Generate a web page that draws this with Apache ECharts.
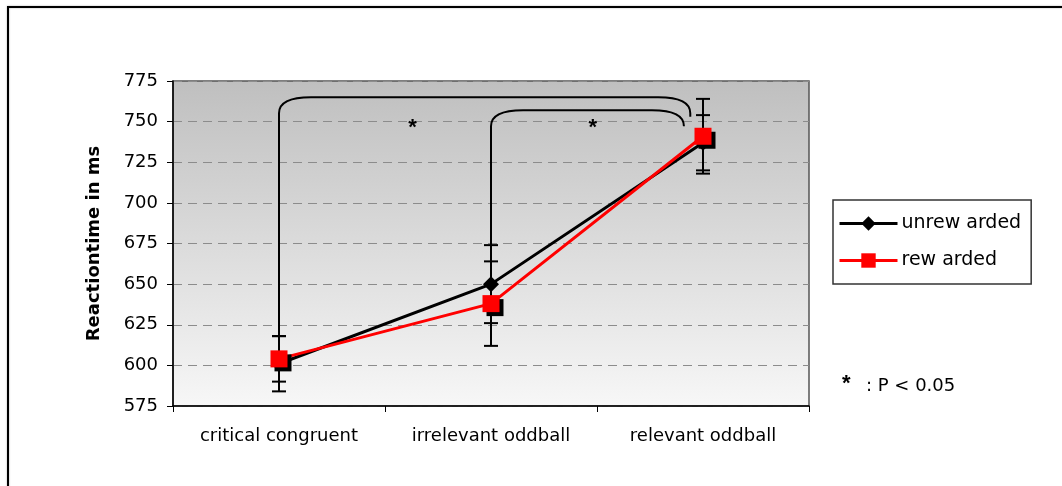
<!DOCTYPE html>
<html>
<head>
<meta charset="utf-8">
<script src="https://cdn.jsdelivr.net/npm/echarts@6/dist/echarts.min.js"></script>
<style>
html,body{margin:0;padding:0;background:#fff;}
#chart{width:1062px;height:486px;}
</style>
</head>
<body>
<div id="chart"></div>
<script>
const categories = ['critical congruent', 'irrelevant oddball', 'relevant oddball'];
const unrewarded = [601, 650, 737];
const rewarded = [604, 638, 741];
const unrewardedErr = [17, 24, 17];
const rewardedErr = [14, 26, 23];
// brackets: [startX, endX, bottomValue, topValue, endValue] (x in category units)
const brackets = [[0, 1.94, 606, 765, 753], [1.0, 1.91, 650, 757, 748]];
// significance stars: [x, value]
const stars = [[0.63, 746], [1.48, 746]];
const yTicks = {min: 575, max: 775, interval: 25};

const FONT = "'DejaVu Sans', 'Liberation Sans', Arial, sans-serif";
const chart = echarts.init(document.getElementById('chart'));

function errData(vals, errs) {
  return vals.map((v, i) => [i, v - errs[i], v + errs[i]]);
}
function renderErr(params, api) {
  const lo = api.coord([api.value(0), api.value(1)]);
  const hi = api.coord([api.value(0), api.value(2)]);
  const w = 7;
  const st = {stroke: '#000', lineWidth: 2};
  return {type: 'group', children: [
    {type: 'line', shape: {x1: lo[0], y1: lo[1], x2: hi[0], y2: hi[1]}, style: st},
    {type: 'line', shape: {x1: lo[0] - w, y1: lo[1], x2: lo[0] + w, y2: lo[1]}, style: st},
    {type: 'line', shape: {x1: hi[0] - w, y1: hi[1], x2: hi[0] + w, y2: hi[1]}, style: st}
  ]};
}
function renderBracket(params, api) {
  const x0 = api.coord([api.value(0), api.value(2)]);
  const t0 = api.coord([api.value(0), api.value(3)]);
  const t1 = api.coord([api.value(1), api.value(3)]);
  const e1 = api.coord([api.value(1), api.value(4)]);
  const rx = 32, ry = 16;
  const d = 'M' + x0[0] + ' ' + x0[1] +
    ' L' + t0[0] + ' ' + (t0[1] + ry) +
    ' C' + t0[0] + ' ' + (t0[1] + 4) + ' ' + (t0[0] + 12) + ' ' + t0[1] + ' ' + (t0[0] + rx) + ' ' + t0[1] +
    ' L' + (t1[0] - rx) + ' ' + t1[1] +
    ' C' + (t1[0] - 12) + ' ' + t1[1] + ' ' + t1[0] + ' ' + (t1[1] + 4) + ' ' + t1[0] + ' ' + (t1[1] + ry) +
    ' L' + e1[0] + ' ' + Math.max(e1[1], t1[1] + ry);
  return {type: 'path', shape: {pathData: d}, style: {stroke: '#000', lineWidth: 2, fill: null}};
}
function renderStar(params, api) {
  const p = api.coord([api.value(0), api.value(1)]);
  return {type: 'text', x: p[0], y: p[1], style: {text: '*', fontSize: 22, fontWeight: 'bold', fontFamily: "'Liberation Sans', Arial", fill: '#000', align: 'center', verticalAlign: 'middle'}};
}

const option = {
  animation: false,
  backgroundColor: '#fff',
  textStyle: {fontFamily: FONT},
  grid: {
    left: 173, right: 253, top: 81, bottom: 80, show: true,
    backgroundColor: {type: 'linear', x: 0, y: 0, x2: 0, y2: 1,
      colorStops: [{offset: 0, color: '#bfbfbf'}, {offset: 1, color: '#f7f7f7'}]},
    borderColor: '#555', borderWidth: 1.5
  },
  legend: {
    orient: 'vertical', left: 833, top: 200, width: 180,
    padding: [14, 10, 14, 5], itemGap: 18, itemWidth: 58, itemHeight: 18,
    borderColor: '#333', borderWidth: 1.5, backgroundColor: '#fff',
    lineStyle: {width: 3},
    textStyle: {fontSize: 19, color: '#000', fontFamily: FONT, padding: [0, 0, 0, -1]},
    data: ['unrew arded', 'rew arded']
  },
  xAxis: [{
    type: 'category', data: categories, boundaryGap: true,
    axisLine: {lineStyle: {color: '#000', width: 1.5}},
    axisTick: {show: true, length: 6, lineStyle: {color: '#000'}},
    axisLabel: {fontSize: 18, color: '#000', margin: 21, fontFamily: FONT},
    splitLine: {show: false}
  }, {
    type: 'value', min: -0.5, max: 2.5, show: false
  }],
  yAxis: {
    type: 'value', min: yTicks.min, max: yTicks.max, interval: yTicks.interval,
    name: 'Reactiontime in ms', nameLocation: 'middle', nameGap: 70,
    nameTextStyle: {fontSize: 18, fontWeight: 'bold', color: '#000', fontFamily: FONT},
    axisLine: {show: true, onZero: false, lineStyle: {color: '#000', width: 1.5}},
    axisTick: {show: true, length: 6, lineStyle: {color: '#000'}},
    axisLabel: {fontSize: 18, color: '#000', margin: 15, fontFamily: FONT},
    splitLine: {show: true, lineStyle: {color: '#8c8c8c', type: [9, 6], width: 1}}
  },
  series: [
    {type: 'custom', xAxisIndex: 1, data: brackets, renderItem: renderBracket, z: 1, silent: true},
    {type: 'custom', xAxisIndex: 1, data: stars, renderItem: renderStar, z: 1, silent: true},
    {type: 'custom', data: errData(unrewarded, unrewardedErr), renderItem: renderErr, z: 2, silent: true},
    {type: 'custom', data: errData(rewarded, rewardedErr), renderItem: renderErr, z: 2, silent: true},
    {
      name: 'unrew arded', type: 'line', data: unrewarded, z: 3,
      symbol: 'diamond', symbolSize: 16, showSymbol: true,
      lineStyle: {color: '#000', width: 3},
      itemStyle: {color: '#000'}
    },
    {
      name: 'rew arded', type: 'line', data: rewarded, z: 4,
      symbol: 'rect', symbolSize: 17, showSymbol: true,
      lineStyle: {color: '#ff0000', width: 3},
      itemStyle: {color: '#ff0000', shadowColor: '#000', shadowOffsetX: 4, shadowOffsetY: 4, shadowBlur: 0}
    }
  ],
  graphic: [
    {type: 'rect', shape: {x: 8, y: 7, width: 1070, height: 500},
      style: {stroke: '#000', lineWidth: 2, fill: null, shadowColor: 'rgba(0,0,0,0.35)', shadowBlur: 2}},
    {type: 'text', x: 842, y: 373, style: {text: '*', fontSize: 22, fontWeight: 'bold', fill: '#000', fontFamily: "'Liberation Sans', Arial"}},
    {type: 'text', x: 866, y: 377, style: {text: ': P < 0.05', fontSize: 18, fill: '#000', fontFamily: FONT}}
  ]
};
chart.setOption(option);
</script>
</body>
</html>
